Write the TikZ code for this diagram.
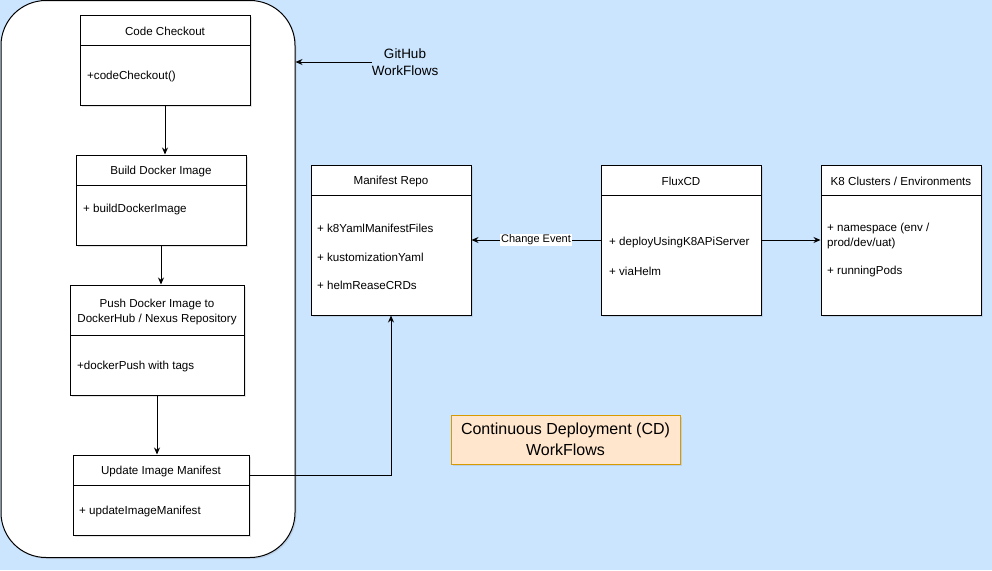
\documentclass[tikz,border=0pt]{standalone}
\usepackage{fontspec}
\setmainfont{Liberation Sans}
\usetikzlibrary{arrows.meta,shadows}

\definecolor{bgblue}{HTML}{CCE5FF}
\definecolor{notefill}{HTML}{FFE6CC}
\definecolor{noteline}{HTML}{D79B00}

\tikzset{
  box/.style={draw, fill=white, rectangle, inner sep=0pt, line width=1pt,
    drop shadow={opacity=0.2, shadow xshift=1.5pt, shadow yshift=-1.5pt}},
  head/.style={font=\fontsize{11.6}{15}\selectfont, align=center, inner sep=0pt},
  item/.style={anchor=west, font=\fontsize{11.6}{15}\selectfont, align=left, inner sep=0pt},
  link/.style={draw, line width=1pt, -{Stealth[length=7pt,width=6pt]}},
}

\begin{document}
\begin{tikzpicture}[x=1pt,y=-1pt]
\useasboundingbox (0,0) rectangle (992,570);
\fill[bgblue] (0,0) rectangle (992,570);

% CI column
\node[box, rounded corners=45pt, minimum width=294pt, minimum height=557pt] (ci) at (148,279) {};

\node[box, minimum width=170pt, minimum height=90pt] (code) at (165,60) {};
\draw (80,45) -- (250,45);
\node[head] (codeT) at (165,31) {Code Checkout};
\node[item] (codeA) at (87,76) {+codeCheckout()};

\node[box, minimum width=170pt, minimum height=90pt] (build) at (161,200) {};
\draw (76,185) -- (246,185);
\node[head] (buildT) at (161,171) {Build Docker Image};
\node[item] (buildA) at (83,209) {+ buildDockerImage};

\node[box, minimum width=174pt, minimum height=110pt] (push) at (157,340) {};
\draw (70,335) -- (244,335);
\node[head] (pushT) at (157,311.5) {Push Docker Image to\\DockerHub / Nexus Repository};
\node[item] (pushA) at (77,366) {+dockerPush with tags};

\node[box, minimum width=176pt, minimum height=80pt] (upd) at (161,495) {};
\draw (73,485) -- (249,485);
\node[head] (updT) at (161,471) {Update Image Manifest};
\node[item] (updA) at (79,511) {+ updateImageManifest};

\draw[link] (code.south) -- (code.south |- build.north);
\draw[link] (build.south) -- (build.south |- push.north);
\draw[link] (push.south) -- (push.south |- upd.north);

\node[font=\fontsize{13.5}{17}\selectfont, align=center, inner sep=0pt] (gh) at (405,62) {GitHub\\WorkFlows};
\draw[link] (gh.west) -- (gh.west -| ci.east);

% CD column
\node[box, minimum width=160pt, minimum height=150pt] (repo) at (391,240) {};
\draw (311,195) -- (471,195);
\node[head] (repoT) at (391,181) {Manifest Repo};
\foreach \y/\t in {228/k8YamlManifestFiles, 257/kustomizationYaml, 285/helmReaseCRDs} {
\node[item] at (317,\y) {+ \t};
}

\node[box, minimum width=160pt, minimum height=150pt] (flux) at (681,240) {};
\draw (601,195) -- (761,195);
\node[head] (fluxT) at (681,181) {FluxCD};
\node[item] (fluxA) at (609,242) {+ deployUsingK8APiServer};
\node[item] (fluxB) at (609,271) {+ viaHelm};

\node[box, minimum width=160pt, minimum height=150pt] (k8) at (901,240) {};
\draw (821,195) -- (981,195);
\node[head] (k8T) at (901,181) {K8 Clusters / Environments};
\node[item] (k8A) at (827,235.5) {+ namespace (env /\\prod/dev/uat)};
\node[item] (k8B) at (827,271) {+ runningPods};

\draw[link] (flux.west) -- node[fill=white, inner sep=1pt, font=\fontsize{11}{12}\selectfont] (chg) {Change Event} (repo.east);
\draw[link] (flux.east) -- (k8.west);

\coordinate (updOut) at (249,475);
\draw[link] (updOut) -| (repo.south);

\node[draw=noteline, fill=notefill, line width=1pt, minimum width=229pt, minimum height=49pt,
  align=center, font=\fontsize{16}{21}\selectfont,
  drop shadow={opacity=0.2, shadow xshift=1.5pt, shadow yshift=-1.5pt}] (note) at (565.5,439.5)
  {Continuous Deployment (CD)\\WorkFlows};
\end{tikzpicture}
\end{document}
